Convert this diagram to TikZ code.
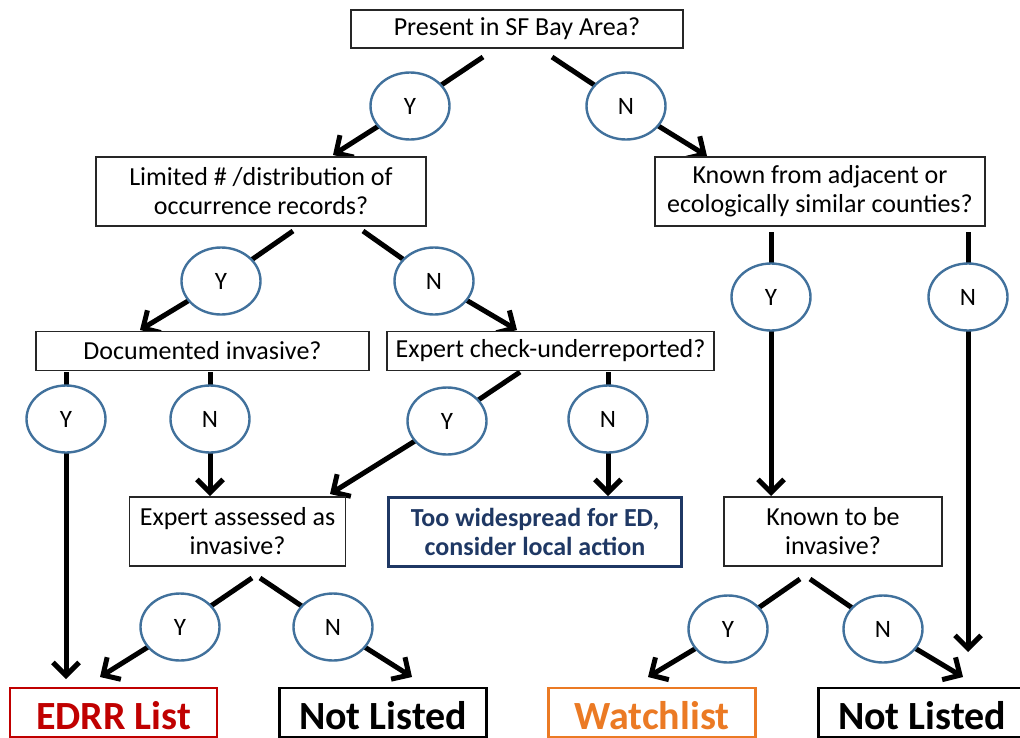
\documentclass[tikz,border=0pt]{standalone}
\usepackage{fontspec}
\setmainfont{Carlito}
\usetikzlibrary{arrows.meta,shapes.geometric,backgrounds}
\definecolor{ellc}{HTML}{41719C}
\definecolor{edrr}{HTML}{C00000}
\definecolor{watch}{HTML}{EB7A24}
\definecolor{navy}{HTML}{1F3864}
\begin{document}
\begin{tikzpicture}[x=1pt,y=-1pt,
 qbox/.style={draw=black!85,line width=1.2pt,fill=white,align=center,font=\fontsize{26}{29}\selectfont,inner sep=0pt},
 yn/.style={ellipse,draw=ellc,line width=2.4pt,fill=white,minimum width=79pt,minimum height=67pt,inner sep=0pt,font=\fontsize{25}{28}\selectfont},
 conn/.style={line width=5pt},
 arr/.style={conn,-{Straight Barb[length=13pt,width=26pt]}},
 endbox/.style={line width=2.4pt,fill=white,minimum width=207pt,minimum height=49pt,text height=34.5pt,text depth=0pt,anchor=north,font=\bfseries\fontsize{40}{48}\selectfont,inner sep=0pt}]
\useasboundingbox (0,0) rectangle (1020,737);
\clip (0,0) rectangle (1020,737);
% question boxes
\node[qbox,minimum width=332pt,minimum height=38pt] (b1) at (517,29) {Present in SF Bay Area?};
\node[qbox,minimum width=330pt,minimum height=69pt] (b2) at (261,191.5) {Limited \# /distribution of\\occurrence records?};
\node[qbox,minimum width=330pt,minimum height=69pt] (b3) at (820,191.5) {Known from adjacent or\\ecologically similar counties?};
\node[qbox,minimum width=333pt,minimum height=39pt] (b4) at (202.5,351) {Documented invasive?};
\node[qbox,minimum width=327pt,minimum height=39pt] (b5) at (550.5,351) {Expert check-underreported?};
\node[qbox,minimum width=216pt,minimum height=69pt] (b6) at (237.5,531.5) {Expert assessed as\\invasive?};
\node[qbox,draw=navy,line width=2.4pt,text=navy,font=\bfseries\fontsize{26}{29}\selectfont,minimum width=293pt,minimum height=69pt] (b7) at (535,532) {Too widespread for ED,\\consider local action};
\node[qbox,minimum width=218pt,minimum height=69pt] (b8) at (833,531.5) {Known to be\\invasive?};
% end boxes
\node[endbox,draw=edrr,text=edrr] (edrr) at (113.5,687) {EDRR List};
\node[endbox,draw=black] (nl1) at (383,687) {Not Listed};
\node[endbox,draw=watch,text=watch] (watch) at (652,687) {Watchlist};
\node[endbox,draw=black] (nl2) at (922,687) {Not Listed};
% Y/N ellipses
\node[yn] (y1) at (410,106) {Y};
\node[yn] (n1) at (626,106) {N};
\node[yn] (y2) at (221,281) {Y};
\node[yn] (n2) at (434,281) {N};
\node[yn] (y3) at (771,297) {Y};
\node[yn] (n3) at (968,297) {N};
\node[yn] (y4) at (66,419) {Y};
\node[yn] (n4) at (210,419) {N};
\node[yn] (y5) at (447,421) {Y};
\node[yn] (n5) at (608,419) {N};
\node[yn] (y6) at (180,627) {Y};
\node[yn] (n6) at (333,627) {N};
\node[yn] (y7) at (728,629) {Y};
\node[yn] (n7) at (883,629) {N};
% connector end points
\coordinate (s1y) at (483,57);  \coordinate (t1y) at (333,155);
\coordinate (s1n) at (552,57);  \coordinate (t1n) at (707,156);
\coordinate (s2y) at (293,231); \coordinate (t2y) at (140,330);
\coordinate (s2n) at (363,231); \coordinate (t2n) at (517,330);
\coordinate (s3y) at (771,232); \coordinate (t3y) at (771,496);
\coordinate (s3n) at (968,232); \coordinate (t3n) at (968,652);
\coordinate (s4y) at (66,372);  \coordinate (t4y) at (66,679);
\coordinate (s4n) at (210,372); \coordinate (t4n) at (210,496);
\coordinate (s5y) at (520,372); \coordinate (t5y) at (330,494);
\coordinate (s5n) at (608,372); \coordinate (t5n) at (608,496);
\coordinate (s6y) at (252,578); \coordinate (t6y) at (100,677);
\coordinate (s6n) at (260,578); \coordinate (t6n) at (412,677);
\coordinate (s8y) at (800,579); \coordinate (t8y) at (648,677);
\coordinate (s8n) at (810,579); \coordinate (t8n) at (963,677);
\begin{scope}[on background layer]
\foreach \a/\e in {1y/y1,1n/n1,2y/y2,2n/n2,3y/y3,3n/n3,4y/y4,4n/n4,5y/y5,5n/n5,6y/y6,6n/n6,8y/y7,8n/n7}{
  \draw[conn] (s\a) -- (\e.center);
  \draw[arr] (\e.center) -- (t\a);
}
\end{scope}
\end{tikzpicture}
\end{document}
